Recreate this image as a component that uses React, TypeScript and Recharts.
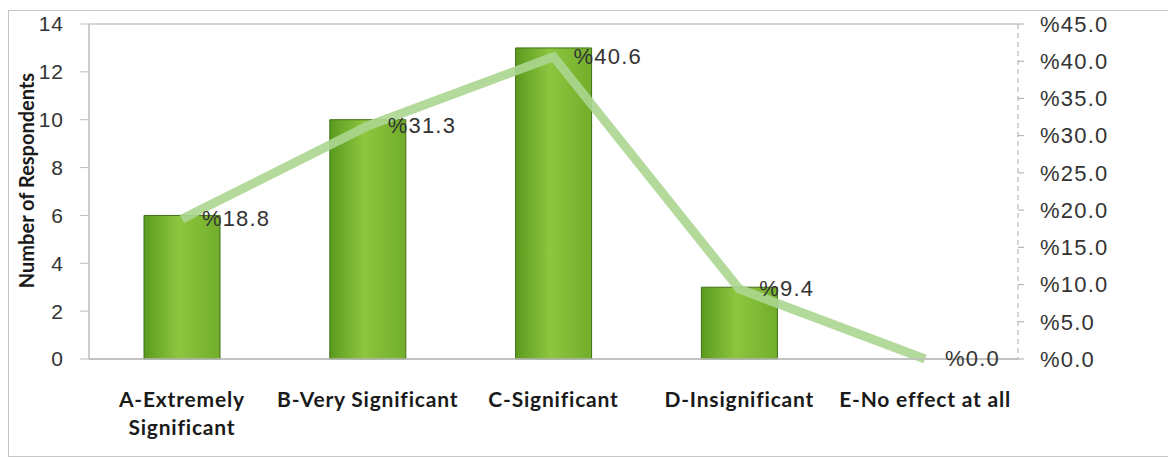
import { ComposedChart, Bar, Line, XAxis, YAxis, CartesianGrid, LabelList, Label } from 'recharts'

const CATEGORIES = ['A-Extremely\nSignificant', 'B-Very Significant', 'C-Significant', 'D-Insignificant', 'E-No effect at all']
const RESPONDENTS = [6, 10, 13, 3, 0]
const PERCENTS = [18.8, 31.3, 40.6, 9.4, 0.0]
const LEFT_TICKS = [0, 2, 4, 6, 8, 10, 12, 14]
const RIGHT_TICKS = [0, 5, 10, 15, 20, 25, 30, 35, 40, 45]

const data = CATEGORIES.map((name, i) => ({ name, count: RESPONDENTS[i], pct: PERCENTS[i] }))

const NUM_FONT = '"Liberation Sans", Arial, sans-serif'
const CAT_FONT = 'Lato, "Open Sans", sans-serif'

// category tick with manual line breaks
const CategoryTick = ({ x, y, payload }: any) => {
  const lines = String(payload.value).split('\n')
  return (
    <g transform={`translate(${x},${y})`}>
      {lines.map((line, i) => (
        <text
          key={i}
          x={0}
          y={40 + i * 28}
          textAnchor="middle"
          fill="#1a1a1a"
          fontFamily={CAT_FONT}
          fontWeight={700}
          fontSize={21}
          letterSpacing={0.8}
        >
          {line}
        </text>
      ))}
    </g>
  )
}

const PctLabel = ({ x, y, value }: any) => (
  <text
    x={x + 20}
    y={y + 7}
    fill="#333"
    fontFamily={NUM_FONT}
    fontSize={22}
    letterSpacing={1.2}
    textAnchor="start"
  >
    {`%${Number(value).toFixed(1)}`}
  </text>
)

// rotated axis title, placed relative to the axis viewBox
const AxisTitle = ({ viewBox }: any) => {
  const cx = viewBox.x + 25
  const cy = viewBox.y + viewBox.height / 2 - 11
  return (
    <text
      transform={`translate(${cx},${cy}) rotate(-90)`}
      textAnchor="middle"
      fill="#1a1a1a"
      fontFamily={CAT_FONT}
      fontWeight={700}
      fontSize={20}
    >
      Number of Respondents
    </text>
  )
}

export default function App() {
  return (
    <div
      style={{
        position: 'relative',
        width: 1160,
        height: 445,
        marginTop: 2,
        border: '1px solid #c4c4c4',
        background: '#fff',
      }}
    >
      <ComposedChart
        width={1160}
        height={445}
        data={data}
        margin={{ top: 13, right: 0, bottom: 0, left: 0 }}
      >
        <defs>
          <linearGradient id="barGreen" x1="0" y1="0" x2="1" y2="0">
            <stop offset="0%" stopColor="#5a9a1e" />
            <stop offset="45%" stopColor="#8dc63f" />
            <stop offset="100%" stopColor="#72ae2b" />
          </linearGradient>
        </defs>
        <CartesianGrid vertical={false} stroke="#c6c6c6" strokeWidth={1.5} />
        <XAxis
          dataKey="name"
          height={97}
          tick={<CategoryTick />}
          tickLine={false}
          axisLine={{ stroke: '#bdbdbd', strokeWidth: 1.5 }}
          interval={0}
        />
        <YAxis
          yAxisId="left"
          domain={[0, 14]}
          ticks={LEFT_TICKS}
          width={80}
          tickSize={9}
          tickMargin={16}
          tick={{ fill: '#333', fontFamily: NUM_FONT, fontSize: 21, letterSpacing: 1 }}
          tickLine={{ stroke: '#bdbdbd' }}
          axisLine={{ stroke: '#bdbdbd', strokeWidth: 1.5 }}
        >
          <Label content={<AxisTitle />} />
        </YAxis>
        <YAxis
          yAxisId="right"
          orientation="right"
          domain={[0, 45]}
          ticks={RIGHT_TICKS}
          width={151}
          tickSize={6}
          tickMargin={16}
          tick={{ fill: '#333', fontFamily: NUM_FONT, fontSize: 22, letterSpacing: 1.2 }}
          tickFormatter={(v: number) => `%${v.toFixed(1)}`}
          tickLine={{ stroke: '#aaa' }}
          axisLine={{ stroke: '#aaa', strokeDasharray: '5 4' }}
        />
        <Bar
          yAxisId="left"
          dataKey="count"
          barSize={76}
          fill="url(#barGreen)"
          stroke="#3f7016"
          strokeWidth={1}
          isAnimationActive={false}
        />
        <Line
          yAxisId="right"
          dataKey="pct"
          stroke="#acd690"
          strokeOpacity={0.9}
          strokeWidth={9}
          dot={false}
          activeDot={false}
          isAnimationActive={false}
        >
          <LabelList dataKey="pct" content={<PctLabel />} />
        </Line>
      </ComposedChart>
    </div>
  )
}
